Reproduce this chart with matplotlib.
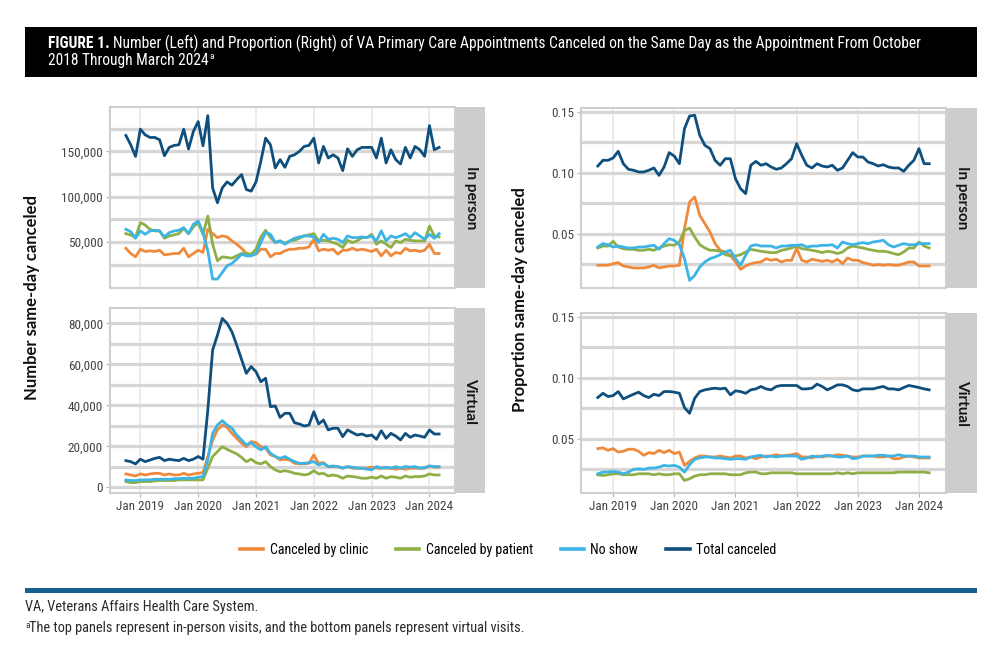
import numpy as np
import matplotlib
matplotlib.use("Agg")
import matplotlib.pyplot as plt
from matplotlib import font_manager as fm
from matplotlib.lines import Line2D
from matplotlib.patches import Rectangle
from matplotlib.ticker import FuncFormatter

# pick a narrow face if one is installed, else Roboto
_names = {f.name for f in fm.fontManager.ttflist}
_narrow = next((n for n in ["Liberation Sans Narrow", "Roboto Condensed", "Open Sans Condensed"] if n in _names), "Roboto")
NARROW = [_narrow, "DejaVu Sans"]
BOLD = ["Lato", "DejaVu Sans"]
plt.rcParams["font.family"] = NARROW

# months: 0 = Oct 2018 ... 65 = Mar 2024
month = np.arange(66)
year_tick_pos = [3, 15, 27, 39, 51, 63]
year_tick_lab = ["Jan 2019", "Jan 2020", "Jan 2021", "Jan 2022", "Jan 2023", "Jan 2024"]

series_names = ["Canceled by clinic", "Canceled by patient", "No show", "Total canceled"]
series_colors = ["#ef8a3c", "#8fae45", "#3cb4e6", "#0f4f7d"]

# ---- number canceled, in person (thousands)
inperson_clinic_k = [
    43.1, 37.3, 33.6, 42.0, 39.5, 40.2, 39.5, 40.9, 35.8, 36.5,
    37.3, 37.3, 43.1, 33.6, 37.3, 40.9, 38.4, 64.0, 59.2, 54.8,
    56.7, 55.6, 51.2, 47.5, 43.1, 37.3, 35.8, 36.5, 42.0, 42.0,
    33.6, 37.3, 37.3, 40.2, 42.0, 42.0, 43.1, 43.1, 44.6, 53.0,
    40.2, 42.0, 40.9, 42.0, 36.5, 40.9, 40.9, 43.1, 40.9, 42.0,
    40.9, 39.5, 42.0, 34.7, 40.9, 34.7, 38.4, 37.3, 43.1, 40.2,
    40.9, 39.5, 40.9, 47.5, 37.3, 37.3]
inperson_patient_k = [
    59.2, 57.8, 54.8, 71.3, 68.7, 64.0, 62.2, 62.2, 54.1, 56.7,
    57.8, 59.2, 65.1, 59.2, 66.6, 71.3, 58.5, 78.6, 47.5, 29.2,
    33.6, 32.9, 32.1, 34.7, 37.3, 37.3, 36.5, 42.0, 55.6, 62.9,
    54.8, 49.4, 51.2, 48.3, 51.2, 51.9, 54.1, 56.7, 57.8, 59.2,
    51.2, 51.9, 51.2, 49.4, 47.5, 43.9, 51.9, 49.4, 51.2, 54.8,
    54.8, 58.5, 47.5, 51.2, 47.5, 43.9, 51.2, 49.4, 53.0, 51.9,
    51.2, 51.2, 51.2, 67.6, 56.7, 55.6]
inperson_noshow_k = [
    64.0, 61.4, 54.1, 62.2, 58.5, 62.2, 62.9, 62.2, 55.6, 60.3,
    62.2, 62.9, 65.8, 59.2, 69.5, 73.1, 60.3, 40.2, 9.1, 9.1,
    16.4, 23.7, 26.3, 31.0, 36.5, 34.7, 34.7, 37.3, 49.4, 60.3,
    58.5, 49.4, 51.2, 47.5, 51.2, 54.1, 55.6, 56.7, 56.7, 55.6,
    49.4, 58.5, 53.0, 54.1, 53.0, 49.4, 56.7, 54.8, 54.8, 55.6,
    54.8, 56.7, 51.2, 62.2, 51.2, 56.7, 54.8, 56.7, 59.2, 54.8,
    60.3, 56.7, 53.0, 58.5, 54.1, 59.2]
inperson_total_k = [
    167.6, 157.3, 144.5, 174.5, 168.3, 165.4, 165.4, 162.8, 145.2, 154.4,
    156.6, 157.3, 174.5, 152.6, 172.0, 182.9, 156.2, 189.5, 109.7, 93.3,
    109.7, 116.3, 112.7, 118.9, 124.4, 107.9, 106.1, 116.3, 139.0, 164.6,
    157.3, 131.7, 140.9, 132.4, 144.5, 146.3, 150.0, 155.5, 156.6, 164.6,
    137.2, 155.5, 142.7, 146.3, 142.7, 128.8, 152.9, 144.5, 151.8, 154.4,
    154.4, 154.4, 142.7, 164.6, 137.2, 151.8, 140.9, 136.1, 154.4, 142.7,
    155.5, 151.8, 144.5, 178.5, 151.8, 154.4]

# ---- number canceled, virtual (thousands)
virtual_clinic_k = [
    6.5, 6.0, 5.5, 6.5, 6.0, 6.5, 6.8, 6.8, 6.0, 6.5,
    6.0, 6.0, 6.8, 6.0, 6.5, 6.8, 7.2, 15.0, 23.1, 28.0,
    30.4, 29.3, 26.3, 23.9, 21.5, 19.8, 22.3, 21.8, 19.8, 19.0,
    15.8, 15.0, 13.3, 13.7, 13.3, 11.7, 11.4, 11.4, 11.7, 15.8,
    11.7, 12.0, 10.1, 10.1, 10.1, 9.3, 10.1, 9.3, 9.3, 9.3,
    9.3, 9.8, 9.3, 9.3, 9.3, 9.3, 8.8, 9.3, 8.8, 9.3,
    9.3, 9.3, 9.3, 10.4, 9.8, 9.8]
virtual_patient_k = [
    2.8, 2.3, 2.3, 2.8, 2.8, 2.8, 3.1, 3.3, 3.3, 3.3,
    3.3, 3.6, 3.6, 3.6, 3.6, 3.6, 3.6, 9.3, 15.0, 17.4,
    19.8, 18.5, 17.4, 16.3, 14.6, 12.5, 13.7, 12.0, 11.4, 12.5,
    10.1, 8.5, 7.6, 8.1, 7.6, 6.8, 6.5, 6.0, 6.5, 8.1,
    6.5, 6.8, 5.5, 6.0, 5.5, 4.4, 5.5, 5.2, 4.9, 4.4,
    4.4, 4.9, 4.4, 5.5, 4.4, 5.2, 4.9, 4.4, 5.5, 4.9,
    5.2, 5.2, 5.5, 6.5, 6.0, 6.0]
virtual_noshow_k = [
    3.6, 3.3, 3.3, 3.6, 3.6, 3.6, 3.9, 3.9, 3.9, 3.9,
    4.2, 4.2, 4.4, 4.4, 4.4, 4.9, 5.2, 13.3, 26.3, 30.4,
    32.5, 30.4, 28.8, 25.5, 23.1, 20.7, 21.8, 19.8, 18.2, 19.8,
    16.6, 15.0, 14.1, 15.0, 13.7, 12.5, 11.7, 11.7, 12.0, 12.5,
    10.9, 11.7, 10.1, 10.4, 10.1, 9.3, 10.1, 9.8, 9.3, 9.3,
    8.8, 8.5, 10.1, 9.3, 9.8, 9.3, 10.1, 9.3, 10.1, 9.8,
    10.1, 9.3, 9.6, 10.4, 10.1, 10.1]
virtual_total_k = [
    13.0, 12.5, 11.4, 13.7, 12.5, 13.3, 14.1, 14.6, 13.0, 13.7,
    13.3, 13.0, 14.1, 13.0, 13.7, 15.0, 13.7, 37.7, 67.0, 74.3,
    82.4, 80.0, 75.9, 69.4, 62.4, 55.6, 58.9, 56.4, 51.5, 53.2,
    39.3, 39.7, 34.1, 36.1, 36.1, 31.5, 30.9, 29.9, 30.4, 36.9,
    30.9, 32.8, 28.0, 28.8, 28.8, 24.7, 28.0, 26.7, 25.5, 26.0,
    25.0, 25.5, 23.4, 27.6, 23.9, 26.3, 25.0, 23.1, 26.3, 24.4,
    25.5, 25.0, 24.4, 28.0, 26.0, 26.0]

# ---- proportion canceled, in person
inperson_clinic_p = [
    0.0240, 0.0240, 0.0240, 0.0253, 0.0262, 0.0234, 0.0226, 0.0218, 0.0218, 0.0218,
    0.0226, 0.0240, 0.0218, 0.0226, 0.0234, 0.0234, 0.0240, 0.0541, 0.0760, 0.0801,
    0.0650, 0.0582, 0.0514, 0.0418, 0.0363, 0.0349, 0.0322, 0.0267, 0.0207, 0.0234,
    0.0253, 0.0262, 0.0267, 0.0294, 0.0281, 0.0289, 0.0267, 0.0281, 0.0280, 0.0380,
    0.0281, 0.0267, 0.0289, 0.0281, 0.0272, 0.0281, 0.0267, 0.0289, 0.0253, 0.0300,
    0.0281, 0.0281, 0.0262, 0.0253, 0.0240, 0.0245, 0.0240, 0.0245, 0.0240, 0.0240,
    0.0253, 0.0267, 0.0267, 0.0234, 0.0234, 0.0234]
inperson_patient_p = [
    0.0382, 0.0398, 0.0398, 0.0437, 0.0390, 0.0376, 0.0371, 0.0371, 0.0363, 0.0363,
    0.0371, 0.0363, 0.0382, 0.0398, 0.0409, 0.0404, 0.0431, 0.0527, 0.0545, 0.0473,
    0.0409, 0.0382, 0.0363, 0.0363, 0.0355, 0.0327, 0.0316, 0.0316, 0.0327, 0.0349,
    0.0371, 0.0363, 0.0355, 0.0349, 0.0344, 0.0344, 0.0363, 0.0371, 0.0382, 0.0398,
    0.0376, 0.0371, 0.0363, 0.0355, 0.0344, 0.0355, 0.0349, 0.0336, 0.0349, 0.0382,
    0.0398, 0.0390, 0.0382, 0.0371, 0.0363, 0.0355, 0.0355, 0.0349, 0.0336, 0.0327,
    0.0349, 0.0382, 0.0382, 0.0431, 0.0398, 0.0382]
inperson_noshow_p = [
    0.0390, 0.0418, 0.0409, 0.0390, 0.0398, 0.0390, 0.0382, 0.0382, 0.0390, 0.0390,
    0.0398, 0.0404, 0.0371, 0.0418, 0.0459, 0.0445, 0.0409, 0.0294, 0.0116, 0.0157,
    0.0226, 0.0267, 0.0294, 0.0308, 0.0327, 0.0349, 0.0363, 0.0294, 0.0240, 0.0322,
    0.0398, 0.0409, 0.0398, 0.0398, 0.0398, 0.0382, 0.0398, 0.0398, 0.0404, 0.0404,
    0.0409, 0.0390, 0.0398, 0.0398, 0.0404, 0.0404, 0.0409, 0.0382, 0.0431, 0.0418,
    0.0409, 0.0418, 0.0426, 0.0418, 0.0431, 0.0437, 0.0445, 0.0409, 0.0390, 0.0404,
    0.0418, 0.0409, 0.0409, 0.0418, 0.0418, 0.0418]
inperson_total_p = [
    0.1056, 0.1103, 0.1103, 0.1122, 0.1177, 0.1075, 0.1029, 0.1021, 0.1007, 0.1007,
    0.1021, 0.1040, 0.0979, 0.1048, 0.1166, 0.1138, 0.1075, 0.1363, 0.1467, 0.1473,
    0.1308, 0.1226, 0.1199, 0.1103, 0.1062, 0.1116, 0.1116, 0.0952, 0.0870, 0.0829,
    0.1062, 0.1094, 0.1062, 0.1075, 0.1048, 0.1029, 0.1040, 0.1075, 0.1116, 0.1240,
    0.1144, 0.1062, 0.1040, 0.1075, 0.1056, 0.1048, 0.1062, 0.1021, 0.1040, 0.1103,
    0.1166, 0.1130, 0.1130, 0.1089, 0.1075, 0.1056, 0.1067, 0.1048, 0.1040, 0.1040,
    0.1012, 0.1062, 0.1103, 0.1199, 0.1075, 0.1075]

# ---- proportion canceled, virtual
virtual_clinic_p = [
    0.0418, 0.0424, 0.0404, 0.0418, 0.0390, 0.0396, 0.0413, 0.0413, 0.0396, 0.0363,
    0.0385, 0.0377, 0.0404, 0.0385, 0.0404, 0.0377, 0.0390, 0.0280, 0.0313, 0.0341,
    0.0357, 0.0357, 0.0349, 0.0349, 0.0357, 0.0349, 0.0341, 0.0357, 0.0357, 0.0341,
    0.0349, 0.0335, 0.0349, 0.0357, 0.0357, 0.0368, 0.0357, 0.0363, 0.0368, 0.0377,
    0.0349, 0.0349, 0.0341, 0.0357, 0.0349, 0.0357, 0.0357, 0.0368, 0.0363, 0.0357,
    0.0349, 0.0349, 0.0357, 0.0357, 0.0357, 0.0349, 0.0349, 0.0357, 0.0335, 0.0335,
    0.0349, 0.0357, 0.0349, 0.0341, 0.0341, 0.0341]
virtual_patient_p = [
    0.0203, 0.0197, 0.0203, 0.0211, 0.0211, 0.0203, 0.0203, 0.0203, 0.0211, 0.0211,
    0.0211, 0.0203, 0.0211, 0.0203, 0.0203, 0.0211, 0.0211, 0.0156, 0.0170, 0.0192,
    0.0203, 0.0203, 0.0211, 0.0211, 0.0211, 0.0211, 0.0203, 0.0203, 0.0203, 0.0219,
    0.0225, 0.0225, 0.0211, 0.0211, 0.0219, 0.0219, 0.0219, 0.0219, 0.0219, 0.0211,
    0.0211, 0.0211, 0.0211, 0.0211, 0.0211, 0.0211, 0.0211, 0.0219, 0.0211, 0.0219,
    0.0211, 0.0219, 0.0219, 0.0219, 0.0219, 0.0219, 0.0219, 0.0219, 0.0219, 0.0225,
    0.0225, 0.0225, 0.0225, 0.0225, 0.0225, 0.0219]
virtual_noshow_p = [
    0.0211, 0.0225, 0.0225, 0.0230, 0.0225, 0.0211, 0.0225, 0.0247, 0.0252, 0.0247,
    0.0258, 0.0258, 0.0266, 0.0280, 0.0275, 0.0280, 0.0266, 0.0225, 0.0286, 0.0330,
    0.0341, 0.0349, 0.0349, 0.0341, 0.0341, 0.0335, 0.0330, 0.0335, 0.0335, 0.0330,
    0.0349, 0.0357, 0.0363, 0.0349, 0.0357, 0.0349, 0.0357, 0.0357, 0.0357, 0.0357,
    0.0330, 0.0341, 0.0357, 0.0349, 0.0357, 0.0363, 0.0357, 0.0349, 0.0349, 0.0357,
    0.0335, 0.0341, 0.0357, 0.0357, 0.0357, 0.0363, 0.0363, 0.0357, 0.0357, 0.0368,
    0.0357, 0.0357, 0.0357, 0.0349, 0.0349, 0.0349]
virtual_total_p = [
    0.0838, 0.0873, 0.0846, 0.0854, 0.0887, 0.0827, 0.0846, 0.0865, 0.0882, 0.0854,
    0.0838, 0.0865, 0.0854, 0.0887, 0.0887, 0.0882, 0.0873, 0.0755, 0.0708, 0.0832,
    0.0887, 0.0901, 0.0909, 0.0915, 0.0909, 0.0915, 0.0860, 0.0893, 0.0887, 0.0873,
    0.0901, 0.0909, 0.0929, 0.0909, 0.0901, 0.0929, 0.0937, 0.0937, 0.0937, 0.0937,
    0.0909, 0.0909, 0.0915, 0.0948, 0.0929, 0.0901, 0.0920, 0.0942, 0.0942, 0.0929,
    0.0901, 0.0893, 0.0909, 0.0909, 0.0909, 0.0920, 0.0929, 0.0909, 0.0909, 0.0901,
    0.0920, 0.0937, 0.0929, 0.0920, 0.0909, 0.0901]

W, H = 1000, 663
fig = plt.figure(figsize=(10, 6.63), dpi=100)
fig.patch.set_facecolor("white")


def box(x0, y0, x1, y1):
    # pixel box (top-left origin) -> figure rect
    return [x0 / W, 1 - y1 / H, (x1 - x0) / W, (y1 - y0) / H]


thousands = FuncFormatter(lambda v, p: f"{v:,.0f}")
twodec = FuncFormatter(lambda v, p: f"{v:.2f}")


def panel(rect, series, ylim, major, minor, fmt, show_x):
    ax = fig.add_axes(rect)
    for vals, col in zip(series, series_colors):
        assert len(vals) == len(month), len(vals)
        ax.plot(month, vals, color=col, lw=2.0, solid_joinstyle="round", zorder=3)
    ax.set_xlim(-3.3, 68.3)
    ax.set_ylim(*ylim)
    ax.set_yticks(major)
    ax.set_yticks(minor, minor=True)
    ax.yaxis.set_major_formatter(fmt)
    ax.set_xticks(year_tick_pos)
    ax.set_axisbelow(True)
    ax.grid(axis="y", which="both", color="#d6d6d6", lw=2.3)
    ax.grid(axis="x", which="major", color="#e6e6e6", lw=1.1)
    for sp in ax.spines.values():
        sp.set_color("#cfcfcf")
        sp.set_linewidth(1.5)
    ax.tick_params(axis="y", which="minor", length=0)
    ax.tick_params(which="major", length=3, width=0.8, color="#b5b5b5",
                   labelsize=9.5, labelcolor="#444444", pad=2)
    if show_x:
        ax.set_xticklabels(year_tick_lab)
    else:
        ax.tick_params(axis="x", length=0, labelbottom=False)
    return ax


def strip(rect, label):
    s = fig.add_axes(rect)
    s.set_facecolor("#cdcdcd")
    s.set_xticks([])
    s.set_yticks([])
    for sp in s.spines.values():
        sp.set_visible(False)
    s.text(0.5, 0.5, label, rotation=270, ha="center", va="center",
           family=BOLD, weight="bold", size=11, color="#151515")


# left column: numbers
panel(box(110, 107, 455, 288),
      [np.array(v) * 1000 for v in (inperson_clinic_k, inperson_patient_k, inperson_noshow_k, inperson_total_k)],
      (-800, 199000), [50000, 100000, 150000], [25000, 75000, 125000, 175000], thousands, False)
panel(box(110, 308, 455, 493),
      [np.array(v) * 1000 for v in (virtual_clinic_k, virtual_patient_k, virtual_noshow_k, virtual_total_k)],
      (-2800, 87500), [0, 20000, 40000, 60000, 80000], [10000, 30000, 50000, 70000], thousands, True)
strip(box(456, 107, 485, 288), "In person")
strip(box(456, 308, 485, 493), "Virtual")

# right column: proportions
panel(box(581, 108, 946, 288),
      [inperson_clinic_p, inperson_patient_p, inperson_noshow_p, inperson_total_p],
      (0.0053, 0.1533), [0.05, 0.10, 0.15], [0.025, 0.075, 0.125], twodec, False)
panel(box(581, 313, 946, 493),
      [virtual_clinic_p, virtual_patient_p, virtual_noshow_p, virtual_total_p],
      (0.0053, 0.1533), [0.05, 0.10, 0.15], [0.025, 0.075, 0.125], twodec, True)
strip(box(947, 108, 977, 288), "In person")
strip(box(947, 313, 977, 493), "Virtual")

fig.text(32 / W, 1 - 298 / H, "Number same-day canceled", rotation=90, ha="center", va="center",
         family=BOLD, weight="bold", size=12, color="#111111")
fig.text(520 / W, 1 - 300 / H, "Proportion same-day canceled", rotation=90, ha="center", va="center",
         family=BOLD, weight="bold", size=12, color="#111111")

# header
fig.add_artist(Rectangle((25 / W, 1 - 77 / H), 952 / W, 50 / H, transform=fig.transFigure,
                         facecolor="black", edgecolor="none"))
renderer = fig.canvas.get_renderer()


def runs(x, y, parts):
    for txt, kw in parts:
        t = fig.text(x, y, txt, ha="left", va="baseline", **kw)
        bb = t.get_window_extent(renderer=renderer)
        x = bb.x1 / fig.bbox.width
    return x


hd = dict(color="white", size=11.2)
runs(48 / W, 1 - 48 / H, [
    ("FIGURE 1.", dict(weight="bold", **hd)),
    ("\u2009Number (Left) and Proportion (Right) of VA Primary Care Appointments Canceled on the Same Day as the Appointment From October", hd),
])
xe = runs(48 / W, 1 - 65 / H, [("2018 Through March 2024", hd)])
fig.text(xe + 1 / W, 1 - 59 / H, "a", ha="left", va="baseline", color="white", size=6.5)

# legend
handles = [Line2D([], [], color=c, lw=2.6) for c in series_colors]
fig.legend(handles, series_names, loc="center", bbox_to_anchor=(508 / W, 1 - 550 / H), ncol=4,
           frameon=False, handlelength=1.7, handletextpad=0.45, columnspacing=2.0,
           prop=dict(family=NARROW, size=10))

# footer
fig.add_artist(Rectangle((25 / W, 1 - 593 / H), 952 / W, 5 / H, transform=fig.transFigure,
                         facecolor="#175f8f", edgecolor="none"))
fig.text(25 / W, 1 - 611 / H, "VA, Veterans Affairs Health Care System.", ha="left", va="baseline",
         size=10.4, color="#2b2b2b")
fig.text(25 / W, 1 - 628 / H, "a", ha="left", va="baseline", size=6.5, color="#2b2b2b")
fig.text(29 / W, 1 - 632 / H, "The top panels represent in-person visits, and the bottom panels represent virtual visits.",
         ha="left", va="baseline", size=10.4, color="#2b2b2b")

fig.savefig("out.png", dpi=100)
